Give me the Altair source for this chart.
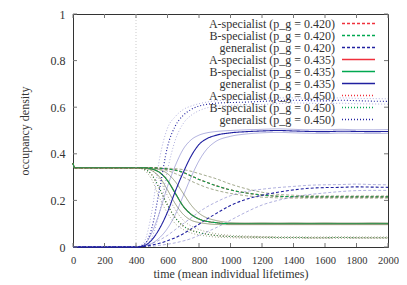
import altair as alt
import pandas as pd

# ---- data ----
T = [0, 10, 400, 450, 500, 550, 600, 650, 700, 750, 800, 850, 900, 1000,
     1100, 1200, 1300, 1400, 1500, 1600, 1700, 1800, 1900, 2000]

# p_g = 0.420 (dashed)
spec_420 = [0.36, 0.34, 0.34, 0.34, 0.34, 0.338, 0.335, 0.33, 0.32, 0.305, 0.29, 0.277,
            0.265, 0.245, 0.232, 0.223, 0.218, 0.216, 0.215, 0.215, 0.215, 0.215, 0.215, 0.215]
spec_420_hi = [0.36, 0.34, 0.34, 0.34, 0.34, 0.34, 0.338, 0.336, 0.332, 0.325, 0.315, 0.305,
               0.295, 0.27, 0.25, 0.235, 0.226, 0.222, 0.22, 0.219, 0.219, 0.219, 0.219, 0.219]
spec_420_lo = [0.36, 0.34, 0.34, 0.34, 0.338, 0.335, 0.328, 0.315, 0.3, 0.283, 0.268, 0.255,
               0.245, 0.23, 0.22, 0.214, 0.211, 0.21, 0.21, 0.21, 0.21, 0.21, 0.21, 0.21]
gen_420 = [0, 0, 0, 0.002, 0.008, 0.016, 0.027, 0.04, 0.057, 0.077, 0.098, 0.12,
           0.14, 0.178, 0.205, 0.222, 0.235, 0.245, 0.252, 0.255, 0.256, 0.258, 0.257, 0.256]
gen_420_hi = [0, 0, 0, 0.004, 0.015, 0.03, 0.05, 0.075, 0.1, 0.125, 0.15, 0.172,
              0.19, 0.22, 0.238, 0.248, 0.255, 0.26, 0.265, 0.267, 0.268, 0.27, 0.268, 0.267]
gen_420_lo = [0, 0, 0, 0.001, 0.003, 0.007, 0.012, 0.018, 0.026, 0.036, 0.05, 0.065,
              0.08, 0.115, 0.15, 0.18, 0.2, 0.215, 0.225, 0.232, 0.238, 0.242, 0.243, 0.243]

# p_g = 0.435 (solid)
spec_435 = [0.36, 0.34, 0.34, 0.34, 0.335, 0.32, 0.285, 0.23, 0.175, 0.14, 0.12, 0.11,
            0.105, 0.1, 0.1, 0.1, 0.1, 0.1, 0.1, 0.1, 0.1, 0.1, 0.1, 0.1]
spec_435_hi = [0.36, 0.34, 0.34, 0.34, 0.338, 0.332, 0.315, 0.28, 0.23, 0.18, 0.145, 0.125,
               0.115, 0.105, 0.103, 0.104, 0.103, 0.104, 0.103, 0.104, 0.103, 0.103, 0.104, 0.103]
spec_435_lo = [0.36, 0.34, 0.34, 0.338, 0.328, 0.3, 0.245, 0.185, 0.14, 0.115, 0.105, 0.1,
               0.097, 0.096, 0.096, 0.096, 0.096, 0.096, 0.096, 0.096, 0.096, 0.096, 0.096, 0.096]
gen_435 = [0, 0, 0, 0.005, 0.03, 0.08, 0.15, 0.24, 0.32, 0.39, 0.44, 0.465,
           0.478, 0.49, 0.495, 0.498, 0.5, 0.498, 0.496, 0.495, 0.497, 0.496, 0.495, 0.496]
gen_435_hi = [0, 0, 0, 0.01, 0.06, 0.15, 0.26, 0.35, 0.42, 0.46, 0.48, 0.49,
              0.495, 0.5, 0.503, 0.505, 0.507, 0.505, 0.503, 0.503, 0.505, 0.503, 0.503, 0.504]
gen_435_lo = [0, 0, 0, 0.002, 0.015, 0.04, 0.08, 0.14, 0.22, 0.3, 0.37, 0.42,
              0.45, 0.475, 0.485, 0.49, 0.492, 0.49, 0.488, 0.487, 0.489, 0.488, 0.487, 0.488]

# p_g = 0.450 (dotted)
spec_450 = [0.36, 0.34, 0.34, 0.335, 0.31, 0.25, 0.18, 0.125, 0.09, 0.072, 0.062, 0.055,
            0.05, 0.045, 0.043, 0.042, 0.041, 0.041, 0.04, 0.04, 0.041, 0.04, 0.04, 0.04]
spec_450_hi = [0.36, 0.34, 0.34, 0.338, 0.33, 0.29, 0.22, 0.16, 0.115, 0.09, 0.075, 0.065,
               0.058, 0.05, 0.047, 0.045, 0.044, 0.044, 0.043, 0.043, 0.044, 0.043, 0.043, 0.043]
spec_450_lo = [0.36, 0.34, 0.34, 0.33, 0.29, 0.21, 0.145, 0.1, 0.075, 0.06, 0.052, 0.047,
               0.043, 0.04, 0.038, 0.038, 0.037, 0.037, 0.037, 0.037, 0.037, 0.037, 0.037, 0.037]
gen_450 = [0, 0, 0, 0.01, 0.08, 0.25, 0.43, 0.52, 0.565, 0.59, 0.605, 0.612,
           0.617, 0.62, 0.622, 0.625, 0.628, 0.63, 0.628, 0.627, 0.63, 0.628, 0.626, 0.625]
gen_450_hi = [0, 0, 0, 0.02, 0.15, 0.38, 0.51, 0.56, 0.59, 0.605, 0.615, 0.622,
              0.627, 0.632, 0.635, 0.637, 0.64, 0.64, 0.638, 0.638, 0.64, 0.638, 0.637, 0.636]
gen_450_lo = [0, 0, 0, 0.005, 0.04, 0.15, 0.33, 0.46, 0.53, 0.565, 0.585, 0.597,
              0.603, 0.608, 0.61, 0.612, 0.615, 0.618, 0.617, 0.615, 0.617, 0.615, 0.614, 0.613]

labels = [
    "A-specialist (p_g = 0.420)", "B-specialist (p_g = 0.420)", "generalist (p_g = 0.420)",
    "A-specialist (p_g = 0.435)", "B-specialist (p_g = 0.435)", "generalist (p_g = 0.435)",
    "A-specialist (p_g = 0.450)", "B-specialist (p_g = 0.450)", "generalist (p_g = 0.450)",
]
colors = ["#f0303c", "#00a850", "#2020a0"] * 3
styles = ["dashed"] * 3 + ["solid"] * 3 + ["dotted"] * 3

series = {
    labels[0]: (spec_420, spec_420_hi, spec_420_lo),
    labels[1]: (spec_420, spec_420_hi, spec_420_lo),
    labels[2]: (gen_420, gen_420_hi, gen_420_lo),
    labels[3]: (spec_435, spec_435_hi, spec_435_lo),
    labels[4]: (spec_435, spec_435_hi, spec_435_lo),
    labels[5]: (gen_435, gen_435_hi, gen_435_lo),
    labels[6]: (spec_450, spec_450_hi, spec_450_lo),
    labels[7]: (spec_450, spec_450_hi, spec_450_lo),
    labels[8]: (gen_450, gen_450_hi, gen_450_lo),
}

x_ticks = list(range(0, 2001, 200))
y_ticks = [0, 0.2, 0.4, 0.6, 0.8, 1]

rows = []
for i, lab in enumerate(labels):
    mean, hi, lo = series[lab]
    for kind, arr in (("mean", mean), ("hi", hi), ("lo", lo)):
        for t, v in zip(T, arr):
            rows.append({"t": t, "v": v, "series": lab, "kind": kind,
                         "color": colors[i], "style": styles[i], "order": i})
df = pd.DataFrame(rows)
legend_df = pd.DataFrame({"series": labels, "row": list(range(len(labels))),
                          "color": colors, "style": styles})

FONT = "Liberation Serif"
W, H = 315, 233

xs = alt.Scale(domain=[0, 2000], nice=False, zero=False)
ys = alt.Scale(domain=[0, 1], nice=False)
ds = alt.Scale(domain=["dashed", "solid", "dotted"], range=[[3, 2], [1, 0], [1, 2]])
col = alt.Color("color:N", scale=None, legend=None)
dash = alt.StrokeDash("style:N", scale=ds, legend=None)

XA = alt.Axis(values=x_ticks, format="d", title="time (mean individual lifetimes)",
              grid=False, domain=False, ticks=False, labelPadding=8, titlePadding=3,
              labelOverlap=False, labelFlush=False, labelFontSize=10.5)
YA = alt.Axis(values=y_ticks, format="~g", title="occupancy density", grid=False,
              domain=False, ticks=False, labelPadding=8, titlePadding=19,
              labelOverlap=False, labelFlush=False, labelFontSize=12)
X = alt.X("t:Q", scale=xs, axis=XA)
Y = alt.Y("v:Q", scale=ys, axis=YA)

base = alt.Chart(df)
env = base.transform_filter(alt.datum.kind != "mean").mark_line(
    strokeWidth=0.7, opacity=0.5, interpolate="monotone"
).encode(x=X, y=Y, color=col, strokeDash=dash, detail="kind:N", order="order:Q")
means = base.transform_filter(alt.datum.kind == "mean").mark_line(
    strokeWidth=1.1, interpolate="monotone"
).encode(x=X, y=Y, color=col, strokeDash=dash, detail="series:N")

vline = alt.Chart(pd.DataFrame({"t": [400]})).mark_rule(
    color="#aaaaaa", strokeWidth=0.6, strokeDash=[1, 2]
).encode(x=X)

tick_color = "#777777"
xt = pd.DataFrame({"t": x_ticks})
yt = pd.DataFrame({"v": y_ticks})
xt_bot = alt.Chart(xt).mark_rule(color=tick_color, strokeWidth=1).encode(
    x=X, y=alt.value(H), y2=alt.value(H - 4))
xt_top = alt.Chart(xt).mark_rule(color=tick_color, strokeWidth=1).encode(
    x=X, y=alt.value(0), y2=alt.value(4))
yt_left = alt.Chart(yt).mark_rule(color=tick_color, strokeWidth=1).encode(
    y=Y, x=alt.value(0), x2=alt.value(4))
yt_right = alt.Chart(yt).mark_rule(color=tick_color, strokeWidth=1).encode(
    y=Y, x=alt.value(W), x2=alt.value(W - 4))

leg_y = alt.Y("row:O", scale=alt.Scale(type="point", range=[9.5, 105.5], padding=0), axis=None)
leg_text = alt.Chart(legend_df).mark_text(
    align="right", baseline="middle", font=FONT, fontSize=12, color="#333333"
).encode(x=alt.value(262), y=leg_y, text="series:N")
leg_line = alt.Chart(legend_df).mark_rule(strokeWidth=1.5).encode(
    x=alt.value(269), x2=alt.value(302), y=leg_y, color=col, strokeDash=dash,
)

main = alt.layer(env, means, vline, xt_bot, xt_top, yt_left, yt_right)
legend = alt.layer(leg_text, leg_line)

chart = alt.layer(main, legend).resolve_scale(y="independent").properties(
    width=W, height=H,
    autosize=alt.AutoSizeParams(type="none"),
    padding={"left": 65, "top": 6, "right": 11, "bottom": 34},
    background="white",
).configure_view(
    stroke="#333333", strokeWidth=1
).configure_axis(
    labelFont=FONT, titleFont=FONT, titleFontSize=12,
    labelColor="#333333", titleColor="#333333", titleFontWeight="normal",
)

chart.save("out.html", embed_options={"renderer": "svg", "actions": False})
